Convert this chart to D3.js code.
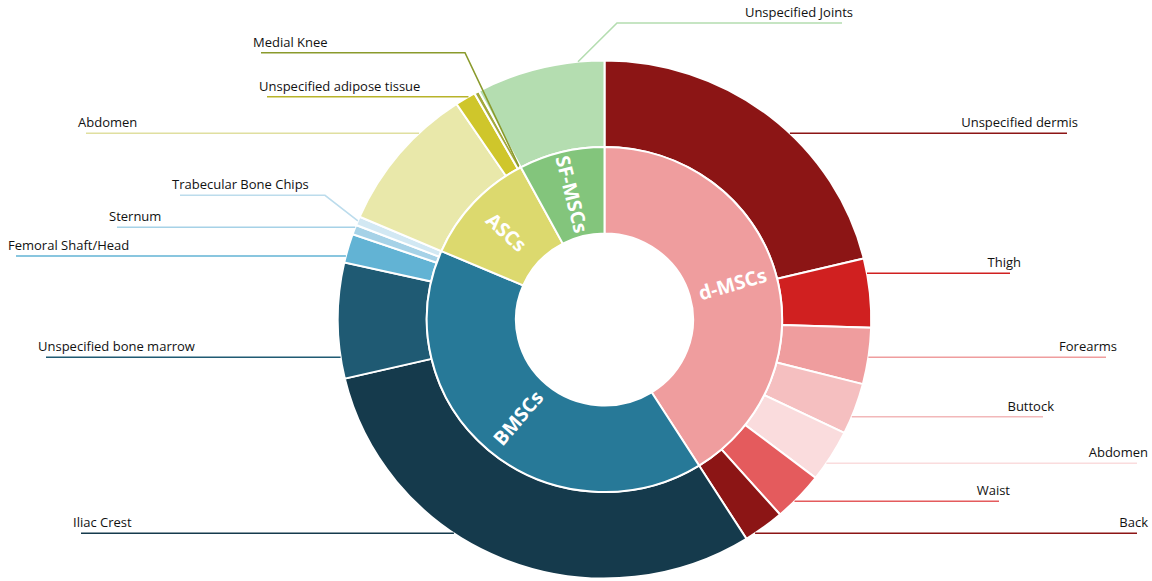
<!DOCTYPE html>
<html>
<head>
<meta charset="utf-8">
<script src="https://cdn.jsdelivr.net/npm/d3@7/dist/d3.min.js"></script>
<style>
  html, body { margin: 0; padding: 0; background: #fff; }
  svg { display: block; }
  .site-label { font-family: "Open Sans", "Noto Sans", sans-serif; font-size: 13px; fill: #111; }
  .group-label { font-family: "Open Sans", "Noto Sans", sans-serif; font-size: 19.5px; font-weight: 700; fill: #fff; }
</style>
</head>
<body>
<svg id="chart" width="1152" height="581"></svg>
<script>
// Cell sources (inner ring)
const groups = ["d-MSCs", "BMSCs", "ASCs", "SF-MSCs"];
const groupColors = ["#ef9d9e", "#277998", "#dcd96e", "#83c57c"];

// Harvest sites (outer ring), in clockwise order within each source
const sites = [
  "Unspecified dermis", "Thigh", "Forearms", "Buttock", "Abdomen", "Waist", "Back",
  "Iliac Crest", "Unspecified bone marrow", "Femoral Shaft/Head", "Sternum", "Trabecular Bone Chips",
  "Abdomen", "Unspecified adipose tissue", "Medial Knee",
  "Unspecified Joints"
];
const siteGroup = [
  "d-MSCs", "d-MSCs", "d-MSCs", "d-MSCs", "d-MSCs", "d-MSCs", "d-MSCs",
  "BMSCs", "BMSCs", "BMSCs", "BMSCs", "BMSCs",
  "ASCs", "ASCs", "ASCs",
  "SF-MSCs"
];
// Share of samples (%)
const siteValues = [
  21.2, 4.3, 3.5, 3.2, 3.25, 3.1, 2.5,
  30.25, 7.2, 1.8, 0.6, 0.55,
  9.15, 1.25, 0.3,
  7.8
];
const siteColors = [
  "#8c1515", "#d02020", "#ef9d9e", "#f5bfc0", "#fadcdd", "#e45b5d", "#8c1515",
  "#153a4c", "#1f5a73", "#62b3d4", "#a6d2e7", "#d2e8f3",
  "#e9e8aa", "#cfc62b", "#a3a83c",
  "#b4ddb0"
];
const lineColors = [
  "#8c1515", "#d02020", "#ef9d9e", "#f2b8b9", "#fadcdd", "#e45b5d", "#8c1515",
  "#153a4c", "#1f5a73", "#62b3d4", "#a6d2e7", "#bcdcec",
  "#e0dfa0", "#b8b32a", "#8a9a2c",
  "#b4ddb0"
];

// Label layout: leader-line y, far end x, optional elbow / target (deg, radius)
const labelLayout = [
  { side: "R", y: 133.3, far: 1067 },
  { side: "R", y: 273.3, far: 1010 },
  { side: "R", y: 357.3, far: 1106 },
  { side: "R", y: 416.7, far: 1043 },
  { side: "R", y: 463.3, far: 1137 },
  { side: "R", y: 501.3, far: 999 },
  { side: "R", y: 533.3, far: 1137 },
  { side: "L", y: 533.3, far: 81 },
  { side: "L", y: 357.3, far: 46 },
  { side: "L", y: 256, far: 16 },
  { side: "L", y: 227.3, far: 117 },
  { side: "L", y: 195.3, far: 180, elbow: 325, tDeg: 292.4, tR: "outer" },
  { side: "L", y: 133.3, far: 86 },
  { side: "L", y: 96.7, far: 267 },
  { side: "L", y: 52.7, far: 261, elbow: 465, tDeg: 331.5, tR: "mid" },
  { side: "R", y: 23, far: 842, elbow: 617, tDeg: 354.3, tR: "outer" }
];

const W = 1152, H = 581;
const cx = 604.5, cy = 319.5, sx = 1.03;
const rHole = 86, rMid = 172.5, rOuter = 259;

const svg = d3.select("#chart");

const groupValues = groups.map(g => d3.sum(siteValues.filter((v, i) => siteGroup[i] === g)));
const total = d3.sum(siteValues);
const angle = d3.scaleLinear().domain([0, total]).range([0, 2 * Math.PI]);

const pieGroups = d3.pie().sort(null).value(d => d).startAngle(angle(0)).endAngle(angle(total));
const groupArcs = pieGroups(groupValues);
const siteArcs = d3.pie().sort(null).value(d => d).startAngle(angle(0)).endAngle(angle(total))(siteValues);

const arcInner = d3.arc().innerRadius(rHole).outerRadius(rMid);
const arcOuter = d3.arc().innerRadius(rMid).outerRadius(rOuter);

const ring = svg.append("g").attr("transform", `translate(${cx},${cy}) scale(${sx},1)`);

ring.selectAll("path.site").data(siteArcs).join("path")
  .attr("class", "site")
  .attr("d", arcOuter)
  .attr("fill", (d, i) => siteColors[i])
  .attr("stroke", "#fff").attr("stroke-width", 2)
  .attr("vector-effect", "non-scaling-stroke");

ring.selectAll("path.group").data(groupArcs).join("path")
  .attr("class", "group")
  .attr("d", arcInner)
  .attr("fill", (d, i) => groupColors[i])
  .attr("stroke", "#fff").attr("stroke-width", 2)
  .attr("vector-effect", "non-scaling-stroke");

// Radial labels for the cell sources
const rLab = (rHole + rMid) / 2;
svg.selectAll("text.group-label").data(groupArcs).join("text")
  .attr("class", "group-label")
  .attr("text-anchor", "middle")
  .attr("dominant-baseline", "central")
  .attr("transform", d => {
    const a = (d.startAngle + d.endAngle) / 2;
    const x = cx + sx * rLab * Math.sin(a);
    const y = cy - rLab * Math.cos(a);
    let rot = a * 180 / Math.PI - 90;
    if (a > Math.PI) rot -= 180;
    return `translate(${x},${y}) rotate(${rot})`;
  })
  .text((d, i) => groups[i]);

// Leader lines and site labels
function polar(deg, r) {
  const a = deg * Math.PI / 180;
  return [cx + sx * r * Math.sin(a), cy - r * Math.cos(a)];
}
const lab = svg.append("g");
labelLayout.forEach((L, i) => {
  let pts;
  if (L.elbow !== undefined) {
    const tr = L.tR === "mid" ? rMid + 2 : rOuter;
    pts = [[L.far, L.y], [L.elbow, L.y], polar(L.tDeg, tr)];
  } else {
    const dy = L.y - cy;
    const half = sx * Math.sqrt(Math.max(0, rOuter * rOuter - dy * dy));
    const edge = L.side === "R" ? cx + half : cx - half;
    pts = [[L.far, L.y], [edge, L.y]];
  }
  lab.append("path")
    .attr("d", d3.line()(pts))
    .attr("fill", "none")
    .attr("stroke", lineColors[i])
    .attr("stroke-width", 1.6);
  lab.append("text")
    .attr("class", "site-label")
    .attr("x", L.side === "R" ? L.far + 11 : L.far - 8)
    .attr("y", L.y - 6)
    .attr("text-anchor", L.side === "R" ? "end" : "start")
    .text(sites[i]);
});
</script>
</body>
</html>
